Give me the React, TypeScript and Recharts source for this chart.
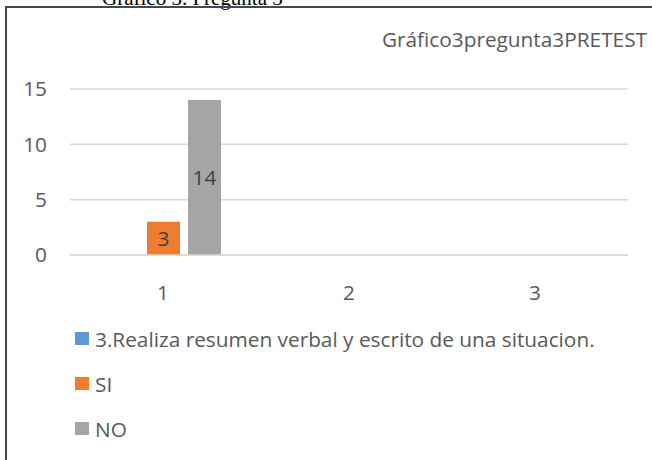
// Gráfico 3 — pregunta 3 (pretest). Excel-style clustered column chart,
// single filled category, vertical legend under the plot.

import { BarChart, Bar, XAxis, YAxis, CartesianGrid, LabelList, Legend } from "recharts";

const categories = ["1", "2", "3"];
const serieEnunciado: (number | null)[] = [null, null, null];
const serieSi: (number | null)[] = [3, null, null];
const serieNo: (number | null)[] = [14, null, null];
const yTicks = [0, 5, 10, 15];

const ENUNCIADO = "3.Realiza resumen verbal y escrito de una situacion.";
const FONT = "'Open Sans', Lato, sans-serif";
const TEXT = "#595959";

const legendItems = [
  { name: ENUNCIADO, color: "#5B9BD5" },
  { name: "SI", color: "#ED7D31" },
  { name: "NO", color: "#A5A5A5" },
];

const data = categories.map((c, i) => ({
  cat: c,
  enunciado: serieEnunciado[i],
  si: serieSi[i],
  no: serieNo[i],
}));

function VerticalLegend() {
  return (
    <div style={{ fontFamily: FONT, fontSize: 20.8, color: TEXT }}>
      {legendItems.map((it) => (
        <div
          key={it.name}
          style={{ height: 45, display: "flex", alignItems: "center", paddingLeft: 75 }}
        >
          <span
            style={{ width: 14, height: 13, background: it.color, marginRight: 6, display: "inline-block" }}
          />
          <span>{it.name}</span>
        </div>
      ))}
    </div>
  );
}

export default function App() {
  return (
    <div
      style={{
        position: "absolute",
        left: 0,
        top: 0,
        width: 652,
        height: 460,
        overflow: "hidden",
        background: "#fff",
      }}
    >
      <div
        style={{
          position: "absolute",
          left: 102,
          top: -14,
          fontFamily: "'Liberation Serif', 'Times New Roman', serif",
          fontSize: 21,
          color: "#000",
          whiteSpace: "nowrap",
        }}
      >
        Gráfico 3. Pregunta 3
      </div>
      <div
        style={{
          position: "absolute",
          left: 5,
          top: 6,
          width: 660,
          height: 470,
          borderLeft: "2px solid #3E4A5C",
          borderTop: "2px solid #3E4A5C",
        }}
      />
      <div
        style={{
          position: "absolute",
          right: 5,
          top: 25,
          fontFamily: FONT,
          fontSize: 20.8,
          color: TEXT,
          whiteSpace: "nowrap",
        }}
      >
        Gráfico3pregunta3PRETEST
      </div>
      <BarChart
        width={652}
        height={460}
        data={data}
        margin={{ top: 89, right: 24, left: 20, bottom: 165 }}
        barSize={33}
        barGap={8}
        style={{ position: "absolute", left: 0, top: 0, fontFamily: FONT }}
      >
        <CartesianGrid vertical={false} stroke="#D9D9D9" strokeWidth={1.5} />
        <XAxis
          dataKey="cat"
          height={40}
          tickLine={false}
          axisLine={{ stroke: "#D9D9D9", strokeWidth: 1.5 }}
          tickMargin={24}
          tick={{ fill: TEXT, fontSize: 20.8 }}
        />
        <YAxis
          width={50}
          domain={[0, 15]}
          ticks={yTicks}
          tickLine={false}
          axisLine={false}
          tickSize={0}
          tickMargin={23}
          tick={{ fill: TEXT, fontSize: 20.8 }}
        />
        <Legend
          layout="horizontal"
          verticalAlign="middle"
          align="center"
          content={() => <VerticalLegend />}
          wrapperStyle={{ left: 0, top: 316, width: 652 }}
        />
        <Bar dataKey="enunciado" name={ENUNCIADO} fill="#5B9BD5" isAnimationActive={false} />
        <Bar dataKey="si" name="SI" fill="#ED7D31" isAnimationActive={false}>
          <LabelList dataKey="si" position="center" fill="#404040" fontSize={20.8} />
        </Bar>
        <Bar dataKey="no" name="NO" fill="#A5A5A5" isAnimationActive={false}>
          <LabelList dataKey="no" position="center" fill="#404040" fontSize={20.8} />
        </Bar>
      </BarChart>
    </div>
  );
}
